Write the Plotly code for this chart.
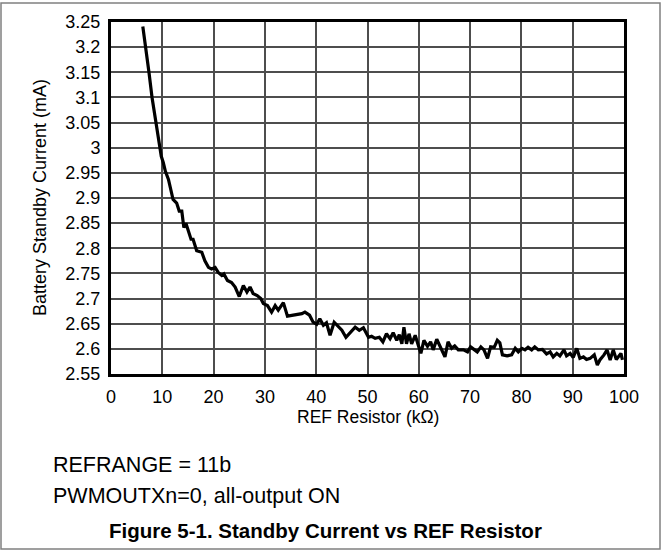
import plotly.graph_objects as go

# ---- data ----
ref_resistor_kohm = [
    6.2, 6.8, 7.4, 8.0, 8.8, 9.55, 9.8, 10.2, 10.6, 11.2, 12.1, 12.8, 13.3, 13.8,
    14.2, 14.6, 15.1, 15.6, 16.0, 16.7, 17.7, 18.3, 19.0, 19.6, 20.3, 20.9, 21.6,
    22.0, 22.7, 23.5, 24.2, 25.0, 25.8, 26.5, 27.1, 27.7, 28.5, 29.2, 29.7, 30.5,
    31.3, 32.0, 32.6, 33.6, 34.4, 35.5, 37.2, 37.8, 38.7, 39.4, 40.1, 40.7, 41.4,
    42.0, 42.7, 43.5, 44.1, 45.0, 45.8, 46.6, 47.6, 48.4, 49.2, 50.2, 50.8, 51.5,
    52.3, 53.0, 53.7, 54.4, 55.0, 55.7, 56.2, 56.7, 57.1, 57.6, 58.1, 58.6, 59.3,
    59.9, 60.4, 61.0, 61.7, 62.3, 62.8, 63.5, 64.1, 65.1, 65.7, 66.4, 67.0, 67.7,
    68.7, 69.5, 70.1, 70.8, 71.4, 72.1, 72.7, 73.4, 74.0, 74.7, 75.3, 75.8, 76.3,
    77.2, 78.1, 78.8, 79.4, 80.1, 80.7, 81.3, 82.0, 82.6, 83.3, 84.1, 84.9, 85.6,
    86.2, 86.9, 87.5, 88.3, 88.8, 89.5, 90.1, 90.8, 91.4, 92.1, 92.7, 93.4, 94.2,
    94.8, 95.3, 96.1, 96.7, 97.3, 97.9, 98.5, 98.9, 99.4, 99.7,
]
standby_current_ma = [
    3.241, 3.200, 3.150, 3.100, 3.050, 3.000, 2.983, 2.970, 2.953, 2.937, 2.897,
    2.890, 2.874, 2.874, 2.841, 2.850, 2.835, 2.818, 2.818, 2.795, 2.792, 2.775,
    2.762, 2.759, 2.762, 2.752, 2.746, 2.749, 2.736, 2.732, 2.723, 2.704, 2.726,
    2.713, 2.723, 2.710, 2.706, 2.700, 2.690, 2.686, 2.673, 2.686, 2.677, 2.692,
    2.665, 2.667, 2.670, 2.673, 2.667, 2.653, 2.649, 2.660, 2.647, 2.652, 2.627,
    2.653, 2.647, 2.637, 2.623, 2.632, 2.643, 2.637, 2.642, 2.623, 2.625, 2.621,
    2.623, 2.614, 2.630, 2.620, 2.632, 2.617, 2.628, 2.610, 2.643, 2.610, 2.630,
    2.610, 2.627, 2.607, 2.591, 2.617, 2.605, 2.614, 2.598, 2.619, 2.607, 2.584,
    2.614, 2.601, 2.606, 2.598, 2.598, 2.594, 2.604, 2.599, 2.594, 2.604, 2.598,
    2.581, 2.604, 2.603, 2.617, 2.612, 2.588, 2.586, 2.588, 2.601, 2.594, 2.601,
    2.598, 2.603, 2.598, 2.604, 2.598, 2.599, 2.590, 2.594, 2.584, 2.591, 2.586,
    2.598, 2.586, 2.591, 2.583, 2.601, 2.581, 2.584, 2.579, 2.581, 2.588, 2.568,
    2.578, 2.588, 2.598, 2.578, 2.598, 2.579, 2.584, 2.591, 2.578,
]
x_tick_vals = [0, 10, 20, 30, 40, 50, 60, 70, 80, 90, 100]
x_tick_text = ["0", "10", "20", "30", "40", "50", "60", "70", "80", "90", "100"]
y_tick_vals = [2.55, 2.6, 2.65, 2.7, 2.75, 2.8, 2.85, 2.9, 2.95, 3.0, 3.05, 3.1, 3.15, 3.2, 3.25]
y_tick_text = ["2.55", "2.6", "2.65", "2.7", "2.75", "2.8", "2.85", "2.9", "2.95", "3", "3.05", "3.1", "3.15", "3.2", "3.25"]

x_title = "REF Resistor (kΩ)"
y_title = "Battery Standby Current (mA)"
note1 = "REFRANGE = 11b"
note2 = "PWMOUTXn=0, all-output ON"
caption = "Figure 5-1. Standby Current vs REF Resistor"

# ---- layout geometry (pixels) ----
W, H = 662, 552
L, R, T, B = 111, 38, 20, 178
PW, PH = W - L - R, H - T - B


def px_x(px):
    return (px - L) / PW


def px_y(py):
    return (H - B - py) / PH


FONT = "Arial, Liberation Sans, Helvetica, sans-serif"

fig = go.Figure()
fig.add_trace(go.Scatter(
    x=ref_resistor_kohm, y=standby_current_ma, mode="lines",
    line=dict(color="black", width=3.2), showlegend=False,
))

axis_common = dict(
    showline=True, linecolor="black", linewidth=3, mirror=True,
    showgrid=True, gridcolor="#4d4d4d", gridwidth=1.5,
    zeroline=False, ticks="", ticklabelstandoff=4,
    tickfont=dict(family=FONT, size=18, color="black"),
)
fig.update_xaxes(range=[0, 100], tickmode="array", tickvals=x_tick_vals,
                 ticktext=x_tick_text, **axis_common)
fig.update_yaxes(range=[2.55, 3.25], tickmode="array", tickvals=y_tick_vals,
                 ticktext=y_tick_text, **axis_common)

annotations = [
    dict(text=x_title, x=0.5, y=px_y(417), xref="paper", yref="paper",
         showarrow=False, xanchor="center", yanchor="middle",
         font=dict(family=FONT, size=17.5, color="black")),
    dict(text=y_title, x=px_x(40), y=0.5, xref="paper", yref="paper",
         showarrow=False, xanchor="center", yanchor="middle", textangle=-90,
         font=dict(family=FONT, size=18, color="black")),
    dict(text=note1, x=px_x(51), y=px_y(466), xref="paper", yref="paper",
         showarrow=False, xanchor="left", yanchor="middle",
         font=dict(family=FONT, size=21.5, color="black")),
    dict(text=note2, x=px_x(51), y=px_y(497), xref="paper", yref="paper",
         showarrow=False, xanchor="left", yanchor="middle",
         font=dict(family=FONT, size=21.5, color="black")),
    dict(text="<b>" + caption + "</b>", x=px_x(325), y=px_y(531), xref="paper", yref="paper",
         showarrow=False, xanchor="center", yanchor="middle",
         font=dict(family=FONT, size=20.5, color="black")),
]

fig.update_layout(
    width=W, height=H,
    margin=dict(l=L, r=R, t=T, b=B, pad=0),
    paper_bgcolor="white", plot_bgcolor="white",
    annotations=annotations,
    hovermode=False,
    shapes=[dict(type="rect", xref="paper", yref="paper",
                 x0=px_x(1), x1=px_x(660), y0=px_y(550), y1=px_y(1),
                 line=dict(color="#808080", width=1.5), layer="above")],
)

fig.write_html("out.html", config={"displayModeBar": False},
               post_script="document.body.style.margin='0';")
